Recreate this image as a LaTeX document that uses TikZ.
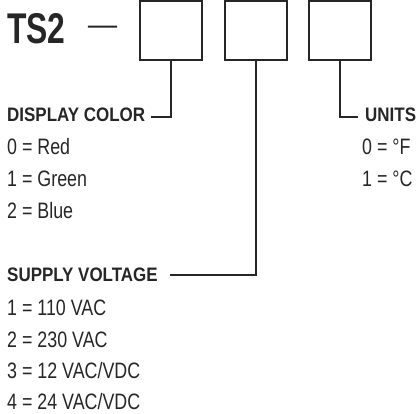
\documentclass[tikz,border=0pt]{standalone}
\usepackage{fontspec}
\setmainfont{Liberation Sans}[FakeStretch=0.8]
\newfontfamily\headfont{Liberation Sans}[FakeStretch=0.74]
\newfontfamily\labelfont{Liberation Sans}[FakeStretch=0.87]
\usetikzlibrary{positioning}

\tikzset{
  digitbox/.style={draw=black!85, line width=2pt, minimum width=62pt, minimum height=59.5pt, inner sep=0},
  lbl/.style={anchor=base west, inner sep=0, font=\labelfont\bfseries\fontsize{19.5}{20}\selectfont, text=black!85},
  item/.style={anchor=base west, inner sep=0, font=\fontsize{22.3}{24}\selectfont, text=black!85},
  wire/.style={line width=2pt, black!85}
}

\begin{document}
\begin{tikzpicture}[x=1pt,y=-1pt]
\useasboundingbox (0,0) rectangle (418,413);

% Model code
\node[anchor=base west, inner sep=0, font=\headfont\bfseries\fontsize{43}{44}\selectfont, text=black!85] (ts) at (7,43) {TS2};
\node[digitbox] (b1) at (171,30.5) {};
\node[digitbox] (b2) at (255.5,30.5) {};
\node[digitbox] (b3) at (339.5,30.5) {};
\draw[wire] ([xshift=22pt,yshift=1.5pt]ts.east) -- ([xshift=-22pt,yshift=4pt]b1.west);

% Display color
\node[lbl] (dc) at (7,121) {DISPLAY COLOR};
\node[item] (red) at (7,154.5) {0 = Red};
\node[item] (green) at (7,186.5) {1 = Green};
\node[item] (blue) at (7,218) {2 = Blue};
\draw[wire] (b1.south) |- ([xshift=6pt,yshift=-3pt]dc.east);

% Units
\node[lbl] (un) at (365,121) {UNITS};
\node[item] (degf) at (362,154.5) {0 = °F};
\node[item] (degc) at (362,186.5) {1 = °C};
\draw[wire] (b3.south) |- ([xshift=-7pt,yshift=-3pt]un.west);

% Supply voltage
\node[lbl] (sv) at (7,281) {SUPPLY VOLTAGE};
\node[item] (v1) at (7,315.5) {1 = 110 VAC};
\node[item] (v2) at (7,347) {2 = 230 VAC};
\node[item] (v3) at (7,378) {3 = 12 VAC/VDC};
\node[item] (v4) at (7,409.5) {4 = 24 VAC/VDC};
\draw[wire] (b2.south) |- ([xshift=12pt,yshift=-1pt]sv.east);
\end{tikzpicture}
\end{document}
